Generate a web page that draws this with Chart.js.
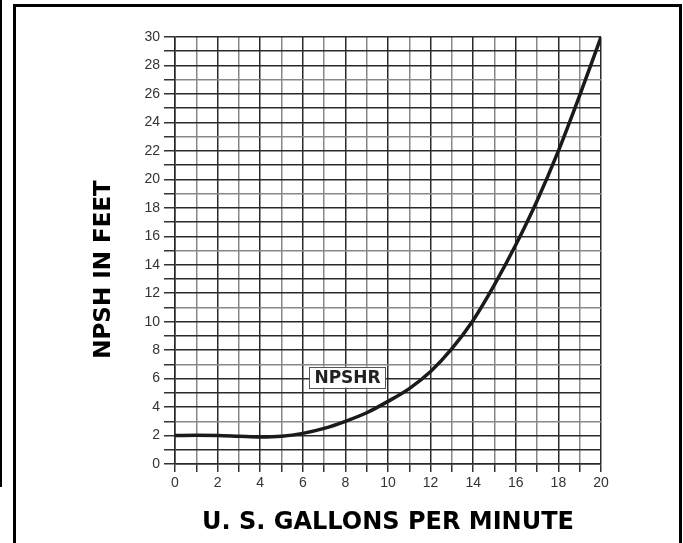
<!DOCTYPE html>
<html>
<head>
<meta charset="utf-8">
<script src="https://cdn.jsdelivr.net/npm/chart.js@4/dist/chart.umd.min.js"></script>
<style>
  html, body { margin: 0; padding: 0; background: #fff; }
  #wrap { position: relative; width: 683px; height: 543px; }
</style>
</head>
<body>
<div id="wrap"><canvas id="c" width="683" height="543"></canvas></div>
<script>
// Data
const gpm = [0,1,2,3,4,5,6,7,8,9,10,11,12,13,14,15,16,17,18,19,20];
const npshr = [2.0,2.02,2.0,1.95,1.9,1.95,2.15,2.5,3.0,3.6,4.4,5.3,6.5,8.1,10.1,12.6,15.4,18.5,22.0,25.9,30.0];
const xTickLabels = ['0','2','4','6','8','10','12','14','16','18','20'];
const yTickLabels = ['0','2','4','6','8','10','12','14','16','18','20','22','24','26','28','30'];
const seriesLabel = 'NPSHR';
const xTitle = 'U. S. GALLONS PER MINUTE';
const yTitle = 'NPSH IN FEET';
const labelAt = { x: 8.1, y: 6.1 };

const framePlugin = {
  id: 'frame',
  beforeDraw(chart) {
    const ctx = chart.ctx;
    ctx.save();
    ctx.fillStyle = '#fff';
    ctx.fillRect(0, 0, chart.width, chart.height);
    ctx.strokeStyle = '#000';
    ctx.lineWidth = 3;
    ctx.beginPath();
    ctx.moveTo(14.5, 543);
    ctx.lineTo(14.5, 5.5);
    ctx.lineTo(680.5, 5.5);
    ctx.lineTo(680.5, 543);
    ctx.stroke();
    ctx.lineWidth = 2;
    ctx.beginPath();
    ctx.moveTo(1, 0);
    ctx.lineTo(1, 487);
    ctx.stroke();
    ctx.restore();
  },
  afterDraw(chart) {
    const ctx = chart.ctx;
    const ys = chart.scales.y;
    ctx.save();
    ctx.translate(104, (ys.top + ys.bottom) / 2 + 19);
    ctx.rotate(-Math.PI / 2);
    ctx.font = 'bold 23px "DejaVu Sans", sans-serif';
    ctx.fillStyle = '#000';
    ctx.textAlign = 'center';
    ctx.textBaseline = 'middle';
    ctx.fillText(yTitle, 0, 0);
    ctx.restore();
  }
};

const labelPlugin = {
  id: 'seriesLabel',
  afterDatasetsDraw(chart) {
    const ctx = chart.ctx;
    const xs = chart.scales.x, ys = chart.scales.y;
    const cx = xs.getPixelForValue(labelAt.x);
    const cy = ys.getPixelForValue(labelAt.y);
    ctx.save();
    ctx.font = 'bold 17px "DejaVu Sans", sans-serif';
    const w = ctx.measureText(seriesLabel).width + 10;
    const h = 21;
    ctx.fillStyle = '#fff';
    ctx.fillRect(cx - w / 2, cy - h / 2, w, h);
    ctx.strokeStyle = '#555';
    ctx.lineWidth = 1;
    ctx.strokeRect(Math.round(cx - w / 2) + 0.5, Math.round(cy - h / 2) + 0.5, Math.round(w), h);
    ctx.fillStyle = '#222';
    ctx.textAlign = 'center';
    ctx.textBaseline = 'middle';
    ctx.fillText(seriesLabel, cx, cy + 1);
    ctx.restore();
  }
};

const gridColorX = (c) => (c.index % 2 === 1 ? '#888' : '#2a2a2a');
const gridColorY = (c) => (c.index % 4 === 3 ? '#888' : '#2a2a2a');

new Chart(document.getElementById('c'), {
  type: 'line',
  data: {
    labels: gpm,
    datasets: [{
      label: seriesLabel,
      data: gpm.map((g, i) => ({ x: g, y: npshr[i] })),
      borderColor: '#1a1a1a',
      borderWidth: 3.5,
      pointRadius: 0,
      fill: false,
      cubicInterpolationMode: 'monotone'
    }]
  },
  options: {
    responsive: false,
    animation: false,
    devicePixelRatio: 1,
    layout: { padding: { left: 0, top: 37, right: 82, bottom: 0 } },
    plugins: { legend: { display: false }, tooltip: { enabled: false } },
    scales: {
      x: {
        type: 'linear', min: 0, max: 20,
        afterFit(s) { s.height = 79; },
        ticks: {
          stepSize: 1, autoSkip: false, maxRotation: 0,
          color: '#333', padding: 3,
          font: { family: '"Liberation Sans", Arial, sans-serif', size: 14 },
          callback: (v) => (v % 2 === 0 ? xTickLabels[v / 2] : '')
        },
        grid: { color: gridColorX, lineWidth: 1.5, tickLength: 8, tickColor: '#333' },
        border: { color: '#2a2a2a', width: 1.5 },
        title: {
          display: true, text: xTitle, color: '#000',
          font: { family: '"DejaVu Sans", sans-serif', size: 24, weight: 'bold' },
          padding: { top: 0, bottom: 6 }
        }
      },
      y: {
        type: 'linear', min: 0, max: 30,
        afterFit(s) { s.width = 175; },
        ticks: {
          stepSize: 1, autoSkip: false,
          color: '#333', padding: 4,
          font: { family: '"Liberation Sans", Arial, sans-serif', size: 14 },
          callback: (v) => (v % 2 === 0 ? yTickLabels[v / 2] : '')
        },
        grid: { color: gridColorY, lineWidth: 1.5, tickLength: 11, tickColor: '#333' },
        border: { color: '#2a2a2a', width: 1.5 },
        title: { display: false, text: yTitle }
      }
    }
  },
  plugins: [framePlugin, labelPlugin]
});
</script>
</body>
</html>
